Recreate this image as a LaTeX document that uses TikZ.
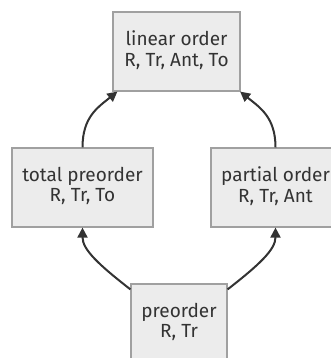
\documentclass[tikz,border=0pt]{standalone}
\usepackage{fontspec}
\setmainfont{Fira Sans}
\usetikzlibrary{arrows.meta}
\definecolor{boxfill}{HTML}{ECECEC}
\definecolor{boxline}{HTML}{A0A0A0}
\definecolor{ink}{HTML}{333333}
\newcommand{\twolines}[2]{\raisebox{3pt}{\begin{tabular}{@{}c@{}}#1\\#2\end{tabular}}}
\tikzset{
  orderbox/.style={draw=boxline, fill=boxfill, line width=1.2pt, inner sep=0pt,
    text=ink, font=\fontsize{19}{20.5}\selectfont},
  link/.style={draw=ink, line width=2pt, -{Triangle[length=10pt,width=10pt]}}
}
\begin{document}
\begin{tikzpicture}[x=1pt,y=-1pt]
  \useasboundingbox (0,0) rectangle (331,358);
  \clip (0,0) rectangle (331,358);
  % boxes, placed by their centres
  \node[orderbox, minimum width=127pt, minimum height=79pt] (lin) at (176.5,51.5) {\twolines{linear order}{R, Tr, Ant, To}};
  \node[orderbox, minimum width=141pt, minimum height=79pt] (tot) at (82.5,187.5) {\twolines{total preorder}{R, Tr, To}};
  \node[orderbox, minimum width=129pt, minimum height=79pt] (par) at (275.5,187.5) {\twolines{partial order}{R, Tr, Ant}};
  \node[orderbox, minimum width=96pt, minimum height=79pt] (pre) at (179,323.5) {\twolines{preorder}{R, Tr}};
  % attachment points on the box borders
  \coordinate (linL) at ([xshift=5pt]lin.south west);
  \coordinate (linR) at ([xshift=-0.5pt]lin.south east);
  \coordinate (preL) at ([yshift=-6pt]pre.north west);
  \coordinate (preR) at ([yshift=-6pt]pre.north east);
  % edges (yshift is in page direction: positive goes up)
  \draw[link] (tot.north) .. controls ([yshift=30pt]tot.north) and ([xshift=-20pt,yshift=-16pt]linL) .. (linL);
  \draw[link] (par.north) .. controls ([yshift=30pt]par.north) and ([xshift=20pt,yshift=-16pt]linR) .. (linR);
  \draw[link] (preL) .. controls ([xshift=-32pt,yshift=25pt]preL) and ([yshift=-22pt]tot.south) .. (tot.south);
  \draw[link] (preR) .. controls ([xshift=32pt,yshift=25pt]preR) and ([yshift=-22pt]par.south) .. (par.south);
\end{tikzpicture}
\end{document}
